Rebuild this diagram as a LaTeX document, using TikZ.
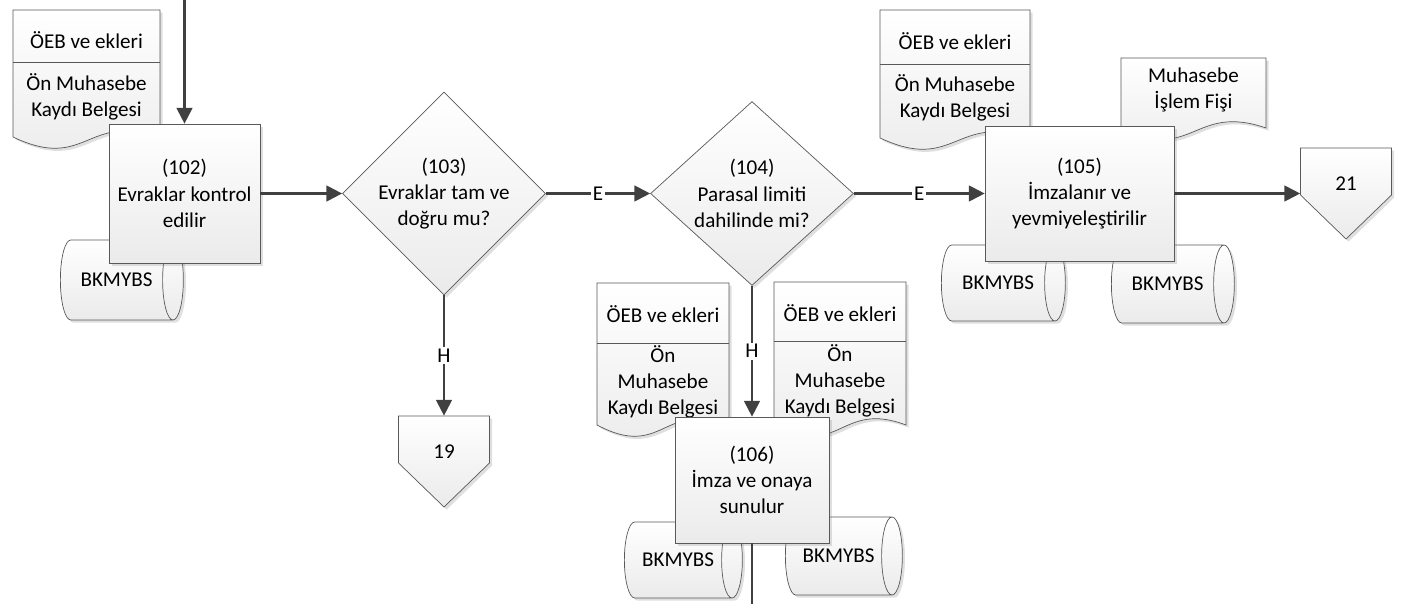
\documentclass[tikz,border=0pt]{standalone}
\usepackage{fontspec}
\setmainfont{Carlito}
\usetikzlibrary{shapes.geometric, arrows.meta, shadows, positioning}

\begin{document}
\begin{tikzpicture}[x=0.02cm, y=-0.02cm, font=\fontsize{12}{15}\selectfont]
  \tikzset{ shd/.style  ={top color=white, bottom color=gray!16, drop shadow={shadow xshift=1.5pt, shadow yshift=-1.5pt, opacity=0.25, fill=black!50}} }
  \tikzset{ proc/.style ={draw=black!65, rectangle, align=center, inner sep=0pt, shd} }
  \tikzset{ dec/.style  ={draw=black!65, diamond,   align=center, inner sep=0pt, shd} }
  \tikzset{ offp/.style ={rectangle, inner sep=0pt, minimum width=1.82cm, minimum height=1.44cm} }
  \tikzset{ dbase/.style={draw=black!65, cylinder, aspect=1.5, inner sep=0pt, shd} }
  \tikzset{ docu/.style ={draw=black!65, shd} }
  \tikzset{ flow/.style ={draw=black!75, line width=1.2pt, -{Triangle[length=9pt, width=9pt]}} }
  \tikzset{ lbl/.style  ={fill=white, inner sep=1pt} }

  \path[use as bounding box] (0,0) rectangle (1403,604);

  % belgeler
  \path[docu] (13,10) -- (160,10) -- (160,137) .. controls (86.5,112) and (86.5,172) .. (13,137) -- cycle;
  \draw[black!65] (13,62) -- (160,62);
  \path[docu] (880,10) -- (1030,10) -- (1030,138) .. controls (955,113) and (955,173) .. (880,138) -- cycle;
  \draw[black!65] (880,64) -- (1030,64);
  \path[docu] (1121,58) -- (1266,58) -- (1266,128) .. controls (1193.5,103) and (1193.5,163) .. (1121,128) -- cycle;
  \path[docu] (597,283) -- (729,283) -- (729,425) .. controls (663,400) and (663,460) .. (597,425) -- cycle;
  \draw[black!65] (597,343) -- (729,343);
  \path[docu] (774,282) -- (906,282) -- (906,425) .. controls (840,400) and (840,460) .. (774,425) -- cycle;
  \draw[black!65] (774,341) -- (906,341);

  \node (oeb1)  at (86.5,40)  {ÖEB ve ekleri};
  \node[align=center] (onm1) at (86.5,97) {Ön Muhasebe\\Kaydı Belgesi};
  \node (oeb2)  at (955,41)   {ÖEB ve ekleri};
  \node[align=center] (onm2) at (955,98) {Ön Muhasebe\\Kaydı Belgesi};
  \node[align=center] (mif)  at (1193.5,90) {Muhasebe\\İşlem Fişi};
  \node (oeb4)  at (663,314)  {ÖEB ve ekleri};
  \node[align=center] (onm4) at (663,382) {Ön\\Muhasebe\\Kaydı Belgesi};
  \node (oeb5)  at (840,313)  {ÖEB ve ekleri};
  \node[align=center] (onm5) at (840,381) {Ön\\Muhasebe\\Kaydı Belgesi};

  % veri tabanlari
  \node[dbase, minimum height=2.46cm, minimum width=1.6cm]  (db1) at (116.5,280) {BKMYBS};
  \node[dbase, minimum height=2.48cm, minimum width=1.52cm] (db2) at (998,283)   {BKMYBS};
  \node[dbase, minimum height=2.46cm, minimum width=1.56cm] (db3) at (1167.5,284) {BKMYBS};
  \node[dbase, minimum height=2.36cm, minimum width=1.52cm] (db4) at (678,560)   {BKMYBS};
  \node[dbase, minimum height=2.34cm, minimum width=1.56cm] (db5) at (838.5,556) {BKMYBS};

  % sayfa disi baglantilar
  \path[docu] (398.5,416) -- (489.5,416) -- (489.5,463) -- (444,507) -- (398.5,463) -- cycle;
  \path[docu] (1300.5,148) -- (1391.5,148) -- (1391.5,195) -- (1346,239) -- (1300.5,195) -- cycle;

  % adimlar
  \node[proc, minimum width=3.02cm, minimum height=2.78cm] (b102) at (184.5,193.5) {(102)\\Evraklar kontrol\\edilir};
  \node[dec,  minimum width=3.56cm, minimum height=3.48cm] (d103) at (444,193.5)   {(103)\\Evraklar tam ve\\doğru mu?};
  \node[dec,  minimum width=4.06cm, minimum height=3.36cm] (d104) at (752,193.5)   {(104)\\Parasal limiti\\dahilinde mi?};
  \node[proc, minimum width=3.78cm, minimum height=2.70cm] (b105) at (1079.5,193.5) {(105)\\İmzalanır ve\\yevmiyeleştirilir};
  \node[proc, minimum width=3.08cm, minimum height=2.52cm] (b106) at (752,480)     {(106)\\İmza ve onaya\\sunulur};
  \node[offp] (p19) at (444,452)  {19};
  \node[offp] (p21) at (1346,184) {21};

  \coordinate (in102)  at (184.5,0);
  \coordinate (out106) at (752,604);

  \draw[flow] (in102) -- (b102.north);
  \draw[flow] (b102.east) -- (d103.west);
  \draw[flow] (d103.east) -- (d104.west) node[lbl, midway] {E};
  \draw[flow] (d104.east) -- (b105.west) node[lbl, midway] {E};
  \draw[flow] (b105.east) -- (b105.east -| p21.west);
  \draw[flow] (d103.south) -- (p19.north) node[lbl, midway] {H};
  \draw[flow] (d104.south) -- (b106.north) node[lbl, midway] {H};
  \draw[draw=black!75, line width=1.2pt] (b106.south) -- (out106);
\end{tikzpicture}
\end{document}
